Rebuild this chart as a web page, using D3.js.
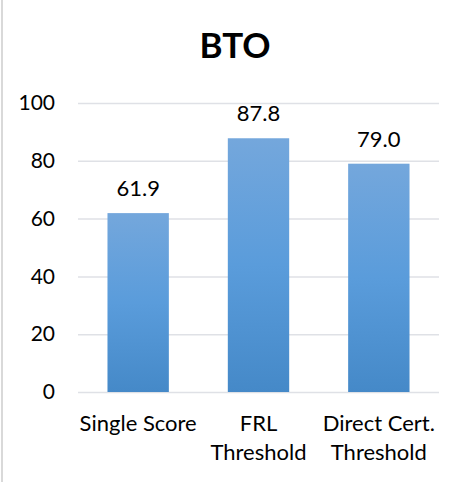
<!DOCTYPE html>
<html>
<head>
<meta charset="utf-8">
<script src="https://cdn.jsdelivr.net/npm/d3@7"></script>
<style>
  html, body { margin: 0; padding: 0; background: #fff; }
  svg { display: block; font-family: Lato, "Open Sans", sans-serif; }
</style>
</head>
<body>
<svg id="chart" width="467" height="482"></svg>
<script>
// chart data
const title = 'BTO';
const categories = [['Single Score'], ['FRL', 'Threshold'], ['Direct Cert.', 'Threshold']];
const values = [61.9, 87.8, 79.0];
const yTicks = [0, 20, 40, 60, 80, 100];

const fullWidth = 467, fullHeight = 482;
const margin = { top: 103, right: 28, bottom: 90, left: 78 };
const width = fullWidth - margin.left - margin.right;
const height = fullHeight - margin.top - margin.bottom;

const svg = d3.select('#chart');

// bar gradient, lighter at top
const grad = svg.append('defs').append('linearGradient')
  .attr('id', 'barGrad')
  .attr('x1', 0).attr('y1', 0).attr('x2', 0).attr('y2', 1);
grad.append('stop').attr('offset', '0%').attr('stop-color', '#74a7dc');
grad.append('stop').attr('offset', '50%').attr('stop-color', '#5a9cdb');
grad.append('stop').attr('offset', '100%').attr('stop-color', '#4589c8');

// left border of the chart area
svg.append('line')
  .attr('x1', 2).attr('x2', 2)
  .attr('y1', 0).attr('y2', fullHeight)
  .style('stroke', '#d9d9d9')
  .style('stroke-width', 2);

svg.append('text')
  .attr('x', 235)
  .attr('y', 58)
  .attr('text-anchor', 'middle')
  .style('font-size', '35px')
  .style('font-weight', 'bold')
  .style('fill', '#000')
  .text(title);

const g = svg.append('g')
  .attr('transform', 'translate(' + margin.left + ',' + margin.top + ')');

const x = d3.scaleBand()
  .domain(d3.range(categories.length))
  .range([0, width])
  .paddingInner(0.49)
  .paddingOuter(0.245);

const y = d3.scaleLinear().domain([0, 100]).range([height, 0]);

// gridlines
g.append('g')
  .attr('class', 'grid')
  .call(d3.axisLeft(y).tickValues(yTicks).tickSize(-width).tickFormat(''))
  .call(s => s.select('.domain').remove())
  .call(s => s.selectAll('line').style('stroke', '#dfe1e6').style('stroke-width', 1.5));

// y tick labels
g.append('g')
  .call(d3.axisLeft(y).tickValues(yTicks).tickSize(0).tickPadding(23))
  .call(s => s.select('.domain').remove())
  .call(s => s.selectAll('text')
    .style('font-family', 'Lato, "Open Sans", sans-serif')
    .style('font-size', '21px')
    .style('fill', '#000'));

// bars
g.selectAll('rect.bar')
  .data(values)
  .enter()
  .append('rect')
  .attr('class', 'bar')
  .attr('x', (d, i) => x(i))
  .attr('y', d => y(d))
  .attr('width', x.bandwidth())
  .attr('height', d => height - y(d))
  .style('fill', 'url(#barGrad)');

// value labels
g.selectAll('text.val')
  .data(values)
  .enter()
  .append('text')
  .attr('class', 'val')
  .attr('x', (d, i) => x(i) + x.bandwidth() / 2)
  .attr('y', d => y(d) - 17)
  .attr('text-anchor', 'middle')
  .style('font-size', '22px')
  .style('fill', '#000')
  .text(d => d.toFixed(1));

// category labels
const cat = g.selectAll('text.cat')
  .data(categories)
  .enter()
  .append('text')
  .attr('class', 'cat')
  .attr('x', (d, i) => x(i) + x.bandwidth() / 2)
  .attr('y', height + 39)
  .attr('text-anchor', 'middle')
  .style('font-size', '22px')
  .style('fill', '#000');

cat.selectAll('tspan')
  .data(d => d)
  .enter()
  .append('tspan')
  .attr('x', function() { return d3.select(this.parentNode).attr('x'); })
  .attr('dy', (d, i) => i === 0 ? 0 : 29)
  .text(d => d);
</script>
</body>
</html>
